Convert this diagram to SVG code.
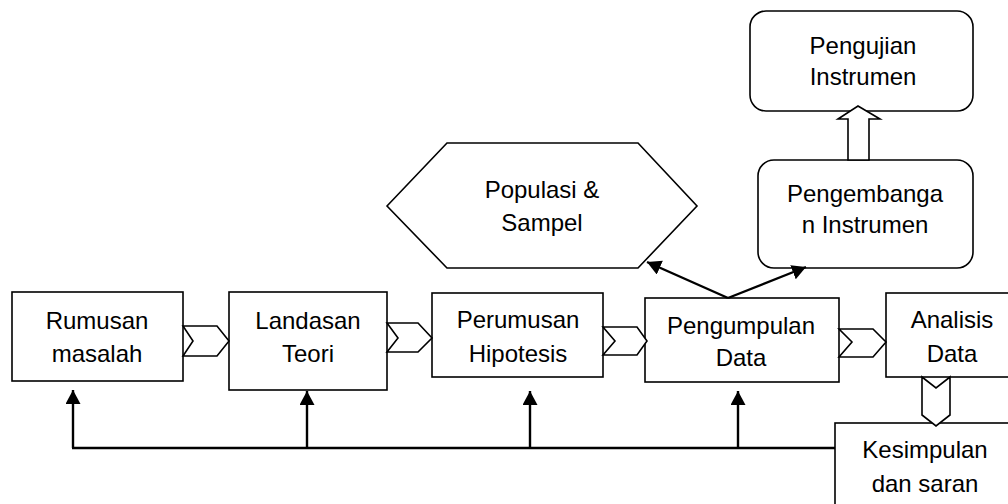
<svg xmlns="http://www.w3.org/2000/svg" width="1008" height="504" viewBox="0 0 1008 504">
<defs>
<marker id="ah" markerUnits="userSpaceOnUse" markerWidth="16" markerHeight="16" refX="14" refY="7.5" orient="auto">
<path d="M0,0 L14,7.5 L0,15 z" fill="#000"/>
</marker>
<style>
.box{fill:#fff;stroke:#000;stroke-width:1.6}
.blk{fill:#fff;stroke:#000;stroke-width:1.6;stroke-linejoin:miter}
.t{font-family:"Liberation Sans",Arial,sans-serif;font-size:24px;fill:#000;text-anchor:middle}
.c{fill:none;stroke:#000;stroke-width:2.4}
</style>
</defs>
<rect width="1008" height="504" fill="#fff"/>

<g id="rumusan">
<rect class="box" x="12" y="292" width="171" height="89"/>
<text class="t" x="97" y="329">Rumusan</text>
<text class="t" x="97" y="362">masalah</text>
</g>
<g id="landasan">
<rect class="box" x="229" y="292" width="158" height="98"/>
<text class="t" x="308" y="329">Landasan</text>
<text class="t" x="308" y="362">Teori</text>
</g>
<g id="perumusan">
<rect class="box" x="432" y="293" width="171" height="84"/>
<text class="t" x="518" y="328">Perumusan</text>
<text class="t" x="518" y="362">Hipotesis</text>
</g>
<g id="pengumpulan">
<rect class="box" x="645" y="298" width="194" height="84"/>
<text class="t" x="741" y="334">Pengumpulan</text>
<text class="t" x="741" y="366">Data</text>
</g>
<g id="analisis">
<rect class="box" x="886" y="293" width="132" height="84"/>
<text class="t" x="952" y="328">Analisis</text>
<text class="t" x="952" y="362">Data</text>
</g>
<g id="kesimpulan">
<rect class="box" x="835" y="423" width="180" height="100"/>
<text class="t" x="925" y="458">Kesimpulan</text>
<text class="t" x="925" y="492">dan saran</text>
</g>
<g id="populasi">
<polygon class="box" points="387,206 447,143 638,143 697,206 638,268 447,268"/>
<text class="t" x="542" y="198">Populasi &amp;</text>
<text class="t" x="542" y="231">Sampel</text>
</g>
<g id="pengembangan">
<rect class="box" x="758" y="160" width="215" height="108" rx="16"/>
<text class="t" x="865" y="202">Pengembanga</text>
<text class="t" x="865" y="233">n Instrumen</text>
</g>
<g id="pengujian">
<rect class="box" x="750" y="11" width="223" height="100" rx="16"/>
<text class="t" x="863" y="54">Pengujian</text>
<text class="t" x="863" y="85">Instrumen</text>
</g>

<g id="connectors">
<line class="c" x1="72" y1="448" x2="835" y2="448"/>
<line class="c" x1="73" y1="448" x2="73" y2="390" marker-end="url(#ah)"/>
<line class="c" x1="307" y1="448" x2="307" y2="391" marker-end="url(#ah)"/>
<line class="c" x1="530" y1="448" x2="530" y2="391" marker-end="url(#ah)"/>
<line class="c" x1="738" y1="447" x2="738" y2="391" marker-end="url(#ah)"/>
<line class="c" x1="728" y1="298" x2="647" y2="262" marker-end="url(#ah)"/>
<line class="c" x1="728" y1="298" x2="806" y2="267" marker-end="url(#ah)"/>
<polygon class="blk" points="183,326 217,326 229,341 217,356 183,356 193,341"/>
<polygon class="blk" points="387,323 418,323 432,338 418,352 387,352 398,338"/>
<polygon class="blk" points="603,327 637,327 647,341 637,355 603,355 615,341"/>
<polygon class="blk" points="839,329 873,329 886,342 873,357 839,357 852,342"/>
<polygon class="blk" points="922,377 936,388 950,377 950,415 936,426 922,415"/>
<polygon class="blk" points="848,160 848,119 838,119 858,106 880,119 869,119 869,160"/>
</g>
</svg>
